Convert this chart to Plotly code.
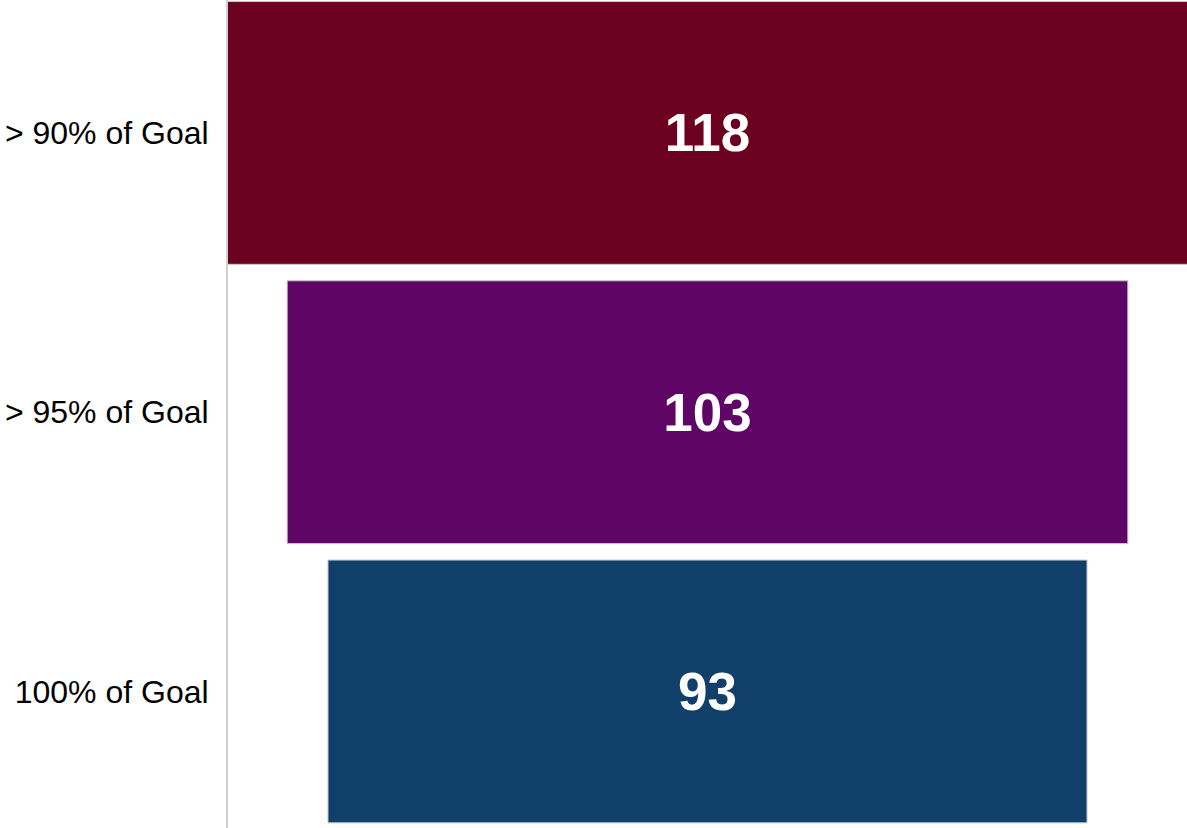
import plotly.graph_objects as go

stages = ["> 90% of Goal", "> 95% of Goal", "100% of Goal"]
counts = [118, 103, 93]
colors = ["#6b0020", "#5e0566", "#10406a"]

fig = go.Figure(go.Funnel(
    y=stages,
    x=counts,
    textinfo="value",
    textposition="inside",
    texttemplate="<b>%{value}</b>",
    textfont=dict(family="Liberation Sans, Arial, sans-serif", size=53, color="white"),
    marker=dict(color=colors, line=dict(color="#c8c8c8", width=1)),
    connector=dict(visible=False),
    insidetextanchor="middle",
))

half = 58.75
fig.update_layout(
    width=1187, height=828,
    margin=dict(l=228, r=0, t=0, b=0),
    paper_bgcolor="white",
    plot_bgcolor="white",
    funnelgap=0.059,
    showlegend=False,
    font=dict(family="Liberation Sans, Arial, sans-serif", color="black"),
    xaxis=dict(visible=False, range=[-half, half]),
    yaxis=dict(
        showline=True, linecolor="#d0d0d0", linewidth=2,
        showgrid=False, zeroline=False,
        ticks="", ticklabelstandoff=11,
        tickfont=dict(size=32, color="black"),
        range=[2.489, -0.476],
    ),
)

fig.write_html("out.html")
